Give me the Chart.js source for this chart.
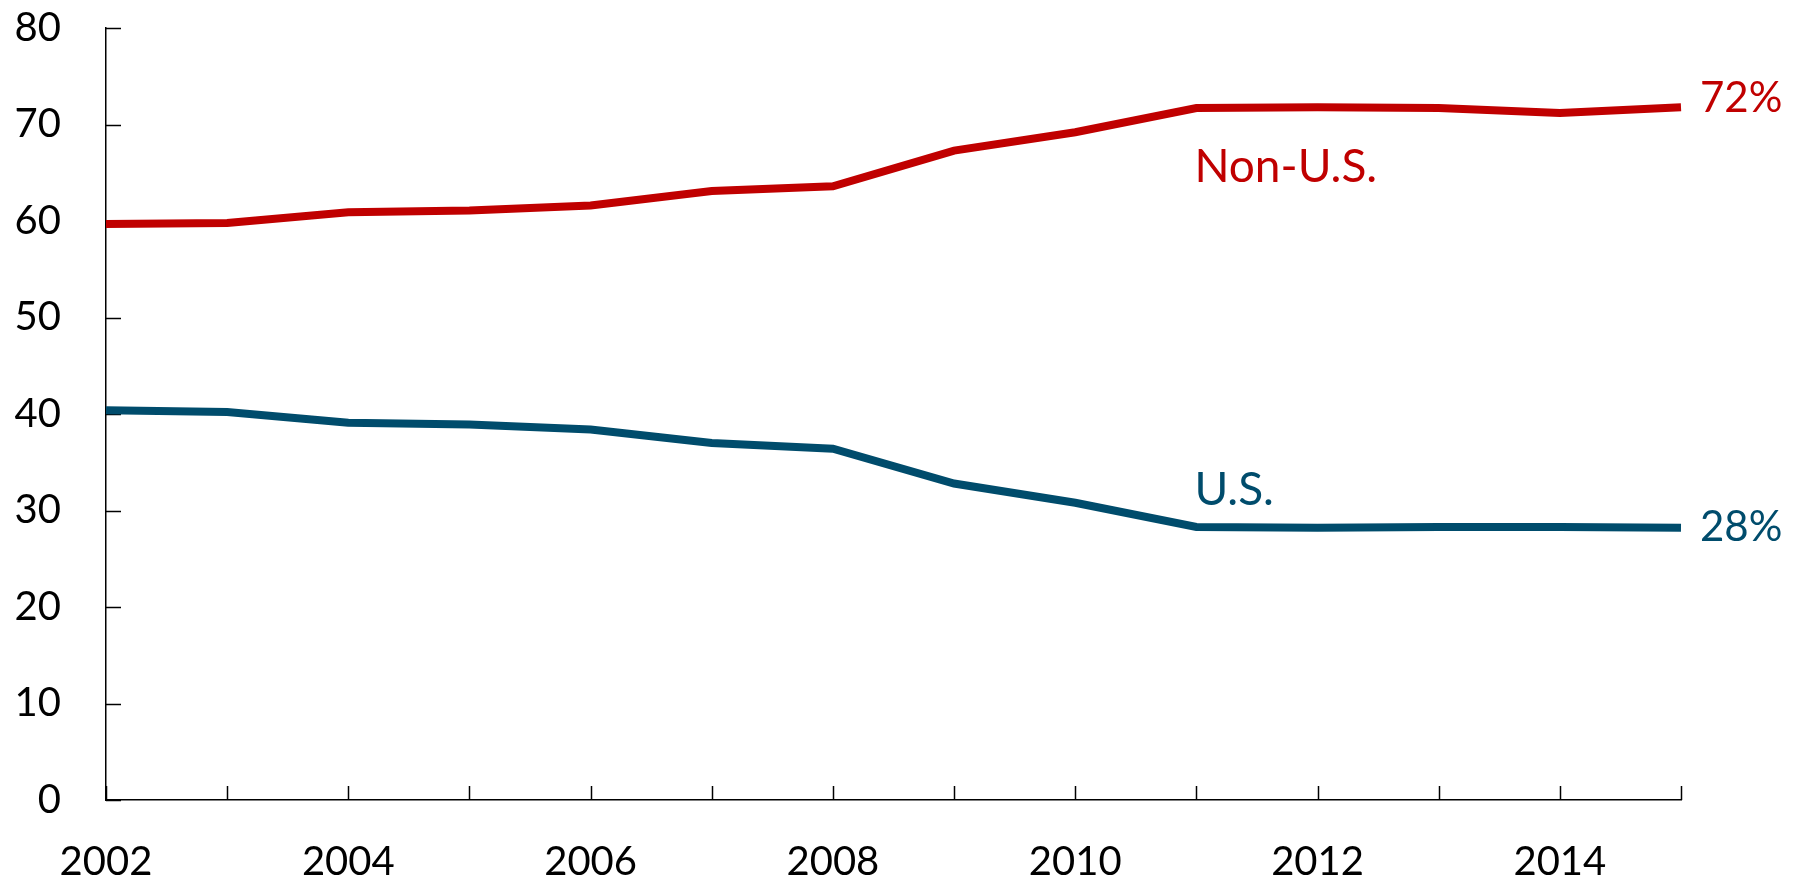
<!DOCTYPE html>
<html>
<head>
<meta charset="utf-8">
<script src="https://cdn.jsdelivr.net/npm/chart.js@4"></script>
<style>
  body { margin: 0; background: #fff; }
  #wrap { width: 1800px; height: 882px; }
</style>
</head>
<body>
<div id="wrap"><canvas id="shareChart"></canvas></div>
<script>
let years = ['2002','2003','2004','2005','2006','2007','2008','2009','2010','2011','2012','2013','2014','2015'];
let nonUS = [59.7, 59.8, 60.9, 61.1, 61.6, 63.1, 63.6, 67.3, 69.2, 71.7, 71.8, 71.7, 71.2, 71.8];
let us = [40.4, 40.2, 39.1, 38.9, 38.4, 37.0, 36.4, 32.8, 30.8, 28.3, 28.2, 28.3, 28.3, 28.2];
let yTicks = [0, 10, 20, 30, 40, 50, 60, 70, 80];

const red = '#C00000';
const blue = '#004C6C';
const font = 'Lato, "Open Sans", sans-serif';

// inward tick marks + line labels
const extras = {
    id: 'extras',
    beforeDatasetsDraw(chart) {
        let ctx = chart.ctx;
        let x = chart.scales.x, y = chart.scales.y;
        ctx.save();
        ctx.strokeStyle = '#000';
        ctx.lineWidth = 1.5;
        yTicks.forEach(v => {
            let py = Math.round(y.getPixelForValue(v)) + 0.5;
            ctx.beginPath();
            ctx.moveTo(x.left, py);
            ctx.lineTo(x.left + 15, py);
            ctx.stroke();
        });
        years.forEach((v, i) => {
            let px = Math.round(x.getPixelForValue(i)) + 0.5;
            ctx.beginPath();
            ctx.moveTo(px, y.bottom);
            ctx.lineTo(px, y.bottom - 14);
            ctx.stroke();
        });
        ctx.restore();
    },
    afterDraw(chart) {
        let ctx = chart.ctx;
        let x = chart.scales.x, y = chart.scales.y;
        let last = years.length - 1;
        ctx.save();
        ctx.textAlign = 'left';
        ctx.textBaseline = 'alphabetic';
        ctx.font = '42px ' + font;
        ctx.fillStyle = red;
        ctx.fillText(Math.round(nonUS[last]) + '%', x.getPixelForValue(last) + 19, y.getPixelForValue(71.3));
        ctx.fillStyle = blue;
        ctx.fillText(Math.round(us[last]) + '%', x.getPixelForValue(last) + 19, y.getPixelForValue(26.8));
        ctx.font = '46px ' + font;
        ctx.fillStyle = red;
        ctx.fillText('Non-U.S.', x.getPixelForValue(9) - 2, y.getPixelForValue(64.0));
        ctx.fillStyle = blue;
        ctx.fillText('U.S.', x.getPixelForValue(9) - 2, y.getPixelForValue(30.6));
        ctx.restore();
    }
};

let ctx = document.querySelector('#shareChart');
var shareChart = new Chart(ctx, {
    type: 'line',
    data: {
        labels: years,
        datasets: [
            { label: 'Non-U.S.', data: nonUS, borderColor: red, borderWidth: 8, pointRadius: 0, tension: 0 },
            { label: 'U.S.', data: us, borderColor: blue, borderWidth: 8, pointRadius: 0, tension: 0 }
        ]
    },
    options: {
        responsive: true,
        maintainAspectRatio: false,
        animation: false,
        layout: { padding: { left: 0, right: 119, top: 28, bottom: 0 } },
        plugins: { legend: { display: false }, tooltip: { enabled: false } },
        scales: {
            x: {
                offset: false,
                grid: { display: false, drawTicks: true, tickLength: 38 },
                border: { color: '#000', width: 1.5 },
                ticks: {
                    autoSkip: false,
                    maxRotation: 0,
                    padding: 0,
                    color: '#000',
                    font: { family: font, size: 40 },
                    callback: function(v, i) { return i % 2 === 0 ? this.getLabelForValue(v) : ''; }
                },
                afterFit: s => { s.height = 82; }
            },
            y: {
                min: 0,
                max: 80,
                grid: { display: false, drawTicks: true, tickLength: 45 },
                border: { color: '#000', width: 1.5 },
                ticks: {
                    stepSize: 10,
                    padding: 0,
                    color: '#000',
                    font: { family: font, size: 40 }
                },
                afterFit: s => { s.width = 106; }
            }
        }
    },
    plugins: [extras]
});
</script>
</body>
</html>
